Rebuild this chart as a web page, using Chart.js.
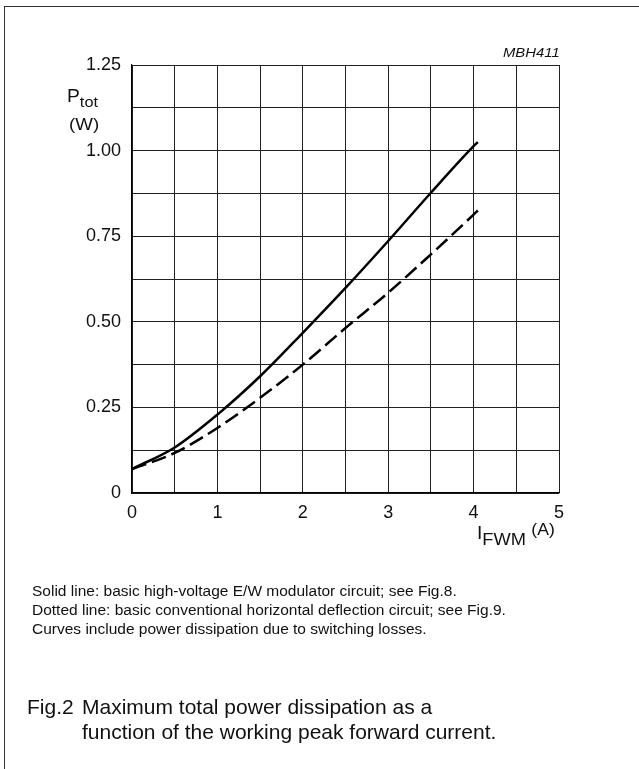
<!DOCTYPE html>
<html>
<head>
<meta charset="utf-8">
<script src="https://cdn.jsdelivr.net/npm/chart.js@4.4.1/dist/chart.umd.min.js"></script>
<style>
  html, body { margin: 0; padding: 0; background: #fff; }
  body { width: 639px; height: 769px; position: relative; overflow: hidden;
         font-family: "Liberation Sans", Arial, sans-serif; color: #111; }
  #frame { position: absolute; left: 4px; top: 6px; right: -10px; bottom: -10px;
           border-left: 1.5px solid #333; border-top: 1.5px solid #333; }
  #chartBox { position: absolute; left: 0; top: 0; width: 639px; height: 769px; }
  .txt { position: absolute; white-space: nowrap; }
  .wide { transform: scaleX(1.1); transform-origin: left center; }
  sub { font-size: 0.85em; vertical-align: -0.35em; line-height: 0; }
</style>
</head>
<body>
<div id="frame"></div>
<div id="chartBox"><canvas id="ptotChart" width="639" height="769"></canvas></div>

<div class="txt wide" style="left:503px; top:45px; font-size:13.5px; font-style:italic;">MBH411</div>
<div class="txt wide" style="left:67px; top:86px; font-size:17.5px;">P<sub>tot</sub></div>
<div class="txt wide" style="left:69px; top:115px; font-size:17px;">(W)</div>
<div class="txt wide" style="left:477px; top:523px; font-size:17.5px;">I<sub style="font-size:0.95em;">FWM</sub> <span style="font-size:16px; position:relative; top:-4px;">(A)</span></div>

<div class="txt" style="left:32px; top:582px; font-size:15.5px; line-height:18.8px;">
  Solid line: basic high-voltage E/W modulator circuit; see Fig.8.<br>
  Dotted line: basic conventional horizontal deflection circuit; see Fig.9.<br>
  Curves include power dissipation due to switching losses.
</div>
<div class="txt" style="left:27px; top:694px; font-size:21px; line-height:25px;">Fig.2</div>
<div class="txt" style="left:82px; top:694px; font-size:21px; line-height:25px;">
  Maximum total power dissipation as a<br>function of the working peak forward current.
</div>

<script>
// données
const currentA = [0, 0.5, 1, 1.5, 2, 2.5, 3, 3.5, 4, 4.05];
const solidW = [0.070, 0.133, 0.229, 0.341, 0.468, 0.599, 0.736, 0.877, 1.013, 1.025];
const dashedW = [0.070, 0.117, 0.190, 0.278, 0.375, 0.482, 0.585, 0.697, 0.813, 0.825];

const xTickLabels = ['0', '1', '2', '3', '4', '5'];
const yTickLabels = ['0', '0.25', '0.50', '0.75', '1.00', '1.25'];

function toPoints(ys) {
    return currentA.map((x, i) => ({ x: x, y: ys[i] }));
}

// Zone du graphique
const area = { left: 132, right: 559, top: 65, bottom: 493 };
const tickFont = { family: '"Liberation Sans", Arial, sans-serif', size: 18 };

const ctx = document.getElementById('ptotChart').getContext('2d');
new Chart(ctx, {
    type: 'line',
    data: {
        datasets: [{
            label: 'Solid',
            data: toPoints(solidW),
            borderColor: '#000',
            borderWidth: 2.5,
            pointRadius: 0,
            cubicInterpolationMode: 'monotone',
            fill: false
        }, {
            label: 'Dashed',
            data: toPoints(dashedW),
            borderColor: '#000',
            borderWidth: 2.5,
            borderDash: [15, 6],
            pointRadius: 0,
            cubicInterpolationMode: 'monotone',
            fill: false
        }]
    },
    options: {
        responsive: false,
        animation: false,
        layout: {
            padding: { left: 0, top: area.top, right: 639 - area.right, bottom: 0 }
        },
        plugins: {
            legend: { display: false },
            tooltip: { enabled: false }
        },
        scales: {
            x: {
                type: 'linear',
                min: 0,
                max: 5,
                afterFit: scale => { scale.height = 769 - area.bottom; },
                grid: { color: '#222', lineWidth: 1, drawTicks: false },
                border: { color: '#000', width: 1.2 },
                ticks: {
                    stepSize: 0.5,
                    autoSkip: false,
                    maxRotation: 0,
                    padding: 9,
                    color: '#111',
                    font: tickFont,
                    callback: value => Number.isInteger(value) ? xTickLabels[value] : ''
                }
            },
            y: {
                type: 'linear',
                min: 0,
                max: 1.25,
                afterFit: scale => { scale.width = area.left; },
                grid: { color: '#222', lineWidth: 1, drawTicks: false },
                border: { color: '#000', width: 1.2 },
                ticks: {
                    stepSize: 0.125,
                    autoSkip: false,
                    padding: 11,
                    color: '#111',
                    font: tickFont,
                    callback: value => {
                        const k = Math.round(value / 0.25 * 1000) / 1000;
                        return Number.isInteger(k) ? yTickLabels[k] : '';
                    }
                }
            }
        }
    }
});
</script>
</body>
</html>
